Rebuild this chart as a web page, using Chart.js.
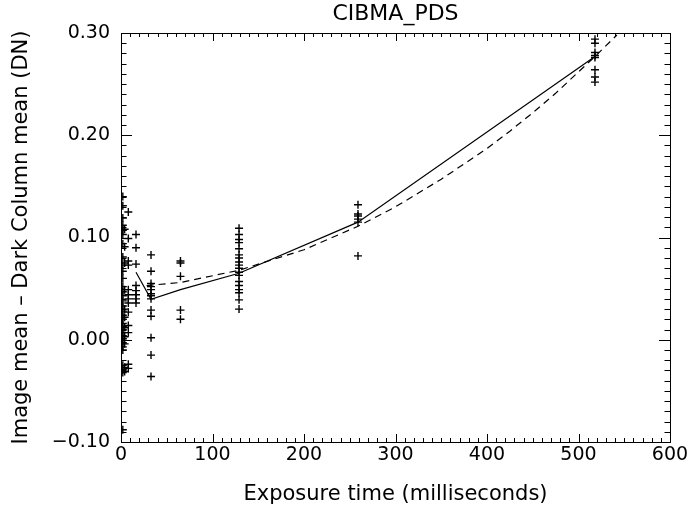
<!DOCTYPE html>
<html>
<head>
<meta charset="utf-8">
<script src="https://cdn.jsdelivr.net/npm/chart.js@4/dist/chart.umd.min.js"></script>
<style>
html,body{margin:0;padding:0;background:#fff;}
#wrap{width:697px;height:516px;position:relative;}
</style>
</head>
<body>
<div id="wrap"><canvas id="c" width="697" height="516"></canvas></div>
<script>
// ---- data ----
const chartTitle = 'CIBMA_PDS';
const xTitle = 'Exposure time (milliseconds)';
const yTitle = 'Image mean \u2013 Dark Column mean (DN)';
const xTickLabels = ['0','100','200','300','400','500','600'];
const yTickLabels = ['\u22120.10','0.00','0.10','0.20','0.30'];

// exposure groups (ms) and measured values (DN)
const exp2  = 2;
const val2  = [0.140,0.131,0.119,0.112,0.107,0.103,0.094,0.081,0.073,0.067,0.060,0.052,0.047,0.043,0.038,0.033,0.028,0.024,0.020,0.016,0.013,0.010,0.007,0.004,0.001,-0.003,-0.007,-0.010,-0.025,-0.029,-0.032,-0.088];
const exp4  = 4;
const val4  = [0.108,0.091,0.075,0.049,0.030,0.022,0.012,0.003,-0.004,-0.027,-0.031];
const exp8  = 8;
const val8  = [0.125,0.099,0.077,0.073,0.049,0.044,0.040,0.036,0.027,0.014,0.007,-0.024,-0.028];
const exp16 = 16.4;
const val16 = [0.103,0.090,0.074,0.053,0.048,0.044,0.040,0.036];
const exp32 = 32.8;
const val32 = [0.083,0.067,0.055,0.052,0.049,0.045,0.043,0.040,0.029,0.023,0.002,-0.015,-0.036];
const exp64 = 65;
const val64 = [0.077,0.075,0.062,0.029,0.020];
const exp128 = 129;
const val128 = [0.109,0.103,0.098,0.095,0.089,0.083,0.080,0.076,0.073,0.070,0.066,0.063,0.057,0.053,0.049,0.046,0.039,0.030];
const exp256 = 259;
const val256 = [0.132,0.123,0.121,0.118,0.115,0.082];
const exp512 = 518;
const val512 = [0.294,0.290,0.281,0.278,0.276,0.264,0.257,0.252];

// solid line (group means)
const meanX = [16.4, 32.8, 65, 129, 259, 518];
const meanY = [0.066, 0.0395, 0.049, 0.065, 0.115, 0.277];
// dashed line (fit curve)
const fitX = [28, 65, 129, 200, 259, 300, 350, 400, 425, 450, 475, 500, 518, 542];
const fitY = [0.053, 0.056, 0.068, 0.088, 0.111, 0.130, 0.157, 0.187, 0.204, 0.222, 0.241, 0.262, 0.277, 0.298];

// ---- build datasets ----
const groups = [[exp2,val2],[exp4,val4],[exp8,val8],[exp16,val16],[exp32,val32],[exp64,val64],[exp128,val128],[exp256,val256],[exp512,val512]];
const pts = [];
groups.forEach(([x, vals]) => vals.forEach(v => pts.push({x: x, y: v})));
const meanPts = meanX.map((x,i)=>({x:x, y:meanY[i]}));
const fitPts = fitX.map((x,i)=>({x:x, y:fitY[i]}));

const FONT = 'DejaVu Sans';

const frame = {
  id: 'frame',
  afterDraw(chart) {
    const ctx = chart.ctx, a = chart.chartArea;
    const xs = chart.scales.x, ys = chart.scales.y;
    ctx.save();
    ctx.strokeStyle = '#000';
    ctx.lineWidth = 1;
    ctx.strokeRect(Math.round(a.left)+0.5, Math.round(a.top)+0.5, Math.round(a.right-a.left), Math.round(a.bottom-a.top));
    ctx.beginPath();
    for (let i = 0; i <= 60; i++) {
      const v = i*10;
      const px = Math.round(xs.getPixelForValue(v)) + 0.5;
      const len = (i % 10 === 0) ? 8 : 4;
      ctx.moveTo(px, a.bottom); ctx.lineTo(px, a.bottom - len);
      ctx.moveTo(px, a.top); ctx.lineTo(px, a.top + len);
    }
    for (let i = 0; i <= 40; i++) {
      const v = -0.1 + i*0.01;
      const py = Math.round(ys.getPixelForValue(v)) + 0.5;
      const len = (i % 10 === 0) ? 11 : 5.5;
      ctx.moveTo(a.left, py); ctx.lineTo(a.left + len, py);
      ctx.moveTo(a.right, py); ctx.lineTo(a.right - len, py);
    }
    ctx.stroke();
    ctx.fillStyle = '#000';
    ctx.font = '22px "' + FONT + '"';
    ctx.textAlign = 'center';
    ctx.textBaseline = 'middle';
    ctx.fillText(chartTitle, (a.left + a.right)/2, 14);
    ctx.restore();
  }
};

new Chart(document.getElementById('c'), {
  type: 'scatter',
  data: {
    datasets: [
      { data: pts, showLine: false, pointStyle: 'cross', pointRadius: 4, pointBorderWidth: 1.4,
        borderColor: '#000', backgroundColor: '#000' },
      { data: meanPts, showLine: true, pointRadius: 0, borderColor: '#000', borderWidth: 1.2, tension: 0 },
      { data: fitPts, showLine: true, pointRadius: 0, borderColor: '#000', borderWidth: 1.2, borderDash: [7,5], tension: 0 }
    ]
  },
  options: {
    responsive: false,
    animation: false,
    devicePixelRatio: 1,
    layout: { padding: { left: 0, right: 27, top: 33, bottom: 0 } },
    plugins: { legend: { display: false }, tooltip: { enabled: false }, title: { display: false } },
    scales: {
      x: {
        type: 'linear', min: 0, max: 600,
        grid: { display: false, drawTicks: false }, border: { display: false },
        afterFit(s) { s.height = 74; },
        ticks: { stepSize: 100, padding: 2, color: '#000', font: { family: FONT, size: 19 },
          maxRotation: 0, autoSkip: false,
          callback: (v, i) => xTickLabels[i] },
        title: { display: true, text: xTitle, color: '#000', font: { family: FONT, size: 21 }, padding: { top: 0, bottom: 9 } }
      },
      y: {
        type: 'linear', min: -0.1, max: 0.3,
        grid: { display: false, drawTicks: false }, border: { display: false },
        afterFit(s) { s.width = 121; },
        ticks: { stepSize: 0.1, padding: 11, color: '#000', font: { family: FONT, size: 19 },
          autoSkip: false,
          callback: (v, i) => yTickLabels[i] },
        title: { display: true, text: yTitle, color: '#000', font: { family: FONT, size: 21 }, padding: { top: 9, bottom: 0 } }
      }
    }
  },
  plugins: [frame]
});
</script>
</body>
</html>
